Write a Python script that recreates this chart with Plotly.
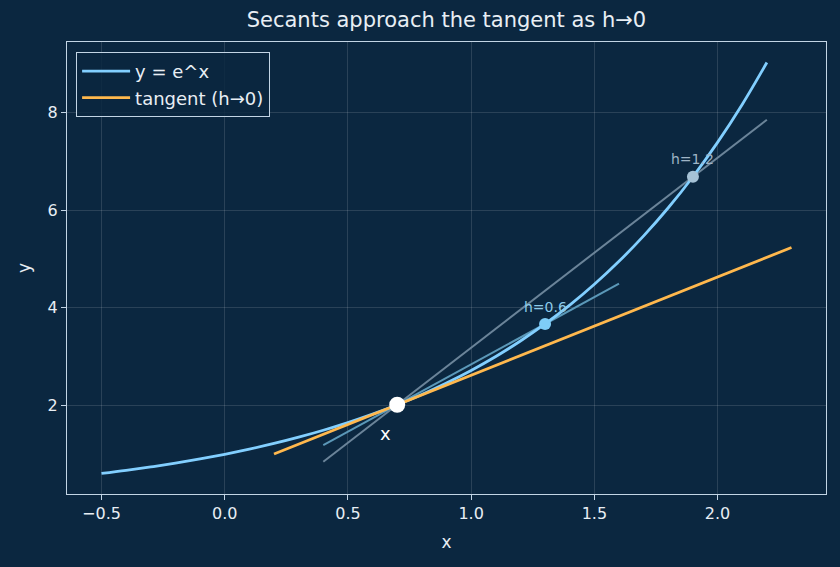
import plotly.graph_objects as go

# Curve y = e^x (values read / sampled)
curve_x = [-0.5, -0.4, -0.3, -0.2, -0.1, 0.0, 0.1, 0.2, 0.3, 0.4, 0.5, 0.6, 0.7, 0.8,
           0.9, 1.0, 1.1, 1.2, 1.3, 1.4, 1.5, 1.6, 1.7, 1.8, 1.9, 2.0, 2.1, 2.2]
curve_y = [0.607, 0.670, 0.741, 0.819, 0.905, 1.000, 1.105, 1.221, 1.350, 1.492, 1.649,
           1.822, 2.014, 2.226, 2.460, 2.718, 3.004, 3.320, 3.669, 4.055, 4.482, 4.953,
           5.474, 6.050, 6.686, 7.389, 8.166, 9.025]

tangent_x = [0.2, 2.3]
tangent_y = [1.007, 5.236]

secant06_x = [0.4, 1.6]
secant06_y = [1.186, 4.497]
secant12_x = [0.4, 2.2]
secant12_y = [0.846, 7.854]

x0_pt = (0.7, 2.014)
h06_pt = (1.3, 3.669)
h12_pt = (1.9, 6.686)

BG = "#0b2740"
FONT = "DejaVu Sans"
TXT = "#e8eef4"
SPINE = "#c3d5e5"

fig = go.Figure()

fig.add_trace(go.Scatter(x=secant12_x, y=secant12_y, mode="lines",
                         line=dict(color="#6b8499", width=2), showlegend=False))
fig.add_trace(go.Scatter(x=secant06_x, y=secant06_y, mode="lines",
                         line=dict(color="#5b98b8", width=2), showlegend=False))
fig.add_trace(go.Scatter(x=curve_x, y=curve_y, mode="lines", name="y = e^x",
                         line=dict(color="#82cfff", width=2.8, shape="spline")))
fig.add_trace(go.Scatter(x=tangent_x, y=tangent_y, mode="lines", name="tangent (h→0)",
                         line=dict(color="#ffb84d", width=2.8)))

fig.add_trace(go.Scatter(x=[h06_pt[0]], y=[h06_pt[1]], mode="markers",
                         marker=dict(color="#7fcdf8", size=12), showlegend=False))
fig.add_trace(go.Scatter(x=[h12_pt[0]], y=[h12_pt[1]], mode="markers",
                         marker=dict(color="#a6c2d6", size=12), showlegend=False))
fig.add_trace(go.Scatter(x=[x0_pt[0]], y=[x0_pt[1]], mode="markers",
                         marker=dict(color="#ffffff", size=16), showlegend=False))

fig.add_annotation(x=h06_pt[0], y=h06_pt[1], text="h=0.6", showarrow=False,
                   yshift=17, font=dict(family=FONT, size=14, color="#8ccbea"))
fig.add_annotation(x=h12_pt[0], y=h12_pt[1], text="h=1.2", showarrow=False,
                   yshift=18, font=dict(family=FONT, size=14, color="#9fb4c6"))
fig.add_annotation(x=x0_pt[0], y=x0_pt[1], text="x", showarrow=False,
                   xshift=-12, yshift=-29, font=dict(family=FONT, size=18, color="#ffffff"))

axis_common = dict(
    showgrid=True, gridcolor="rgba(255,255,255,0.13)", gridwidth=1,
    showline=True, linecolor=SPINE, linewidth=1.2, mirror=True,
    ticks="outside", ticklen=5, tickcolor=SPINE, zeroline=False,
    tickfont=dict(family=FONT, size=16, color=TXT),
)

fig.update_layout(
    width=840, height=567,
    paper_bgcolor=BG, plot_bgcolor=BG,
    margin=dict(l=67, r=14, t=42, b=73),
    title=dict(text="Secants approach the tangent as h→0", x=0.5315, xanchor="center",
               y=0.965, yanchor="middle",
               font=dict(family=FONT, size=21, color=TXT)),
    xaxis=dict(range=[-0.64, 2.44], tickvals=[-0.5, 0.0, 0.5, 1.0, 1.5, 2.0],
               ticktext=["−0.5", "0.0", "0.5", "1.0", "1.5", "2.0"],
               title=dict(text="x", font=dict(family=FONT, size=17, color=TXT), standoff=13),
               **axis_common),
    yaxis=dict(range=[0.186, 9.446], tickvals=[2, 4, 6, 8],
               title=dict(text="y", font=dict(family=FONT, size=17, color=TXT), standoff=12),
               **axis_common),
    legend=dict(x=0.012, y=0.978, xanchor="left", yanchor="top",
                bgcolor="rgba(11,39,64,0.85)", bordercolor=SPINE, borderwidth=1,
                font=dict(family=FONT, size=18, color=TXT),
                itemwidth=48, tracegroupgap=2),
    showlegend=True,
)

fig.write_html("out.html")
